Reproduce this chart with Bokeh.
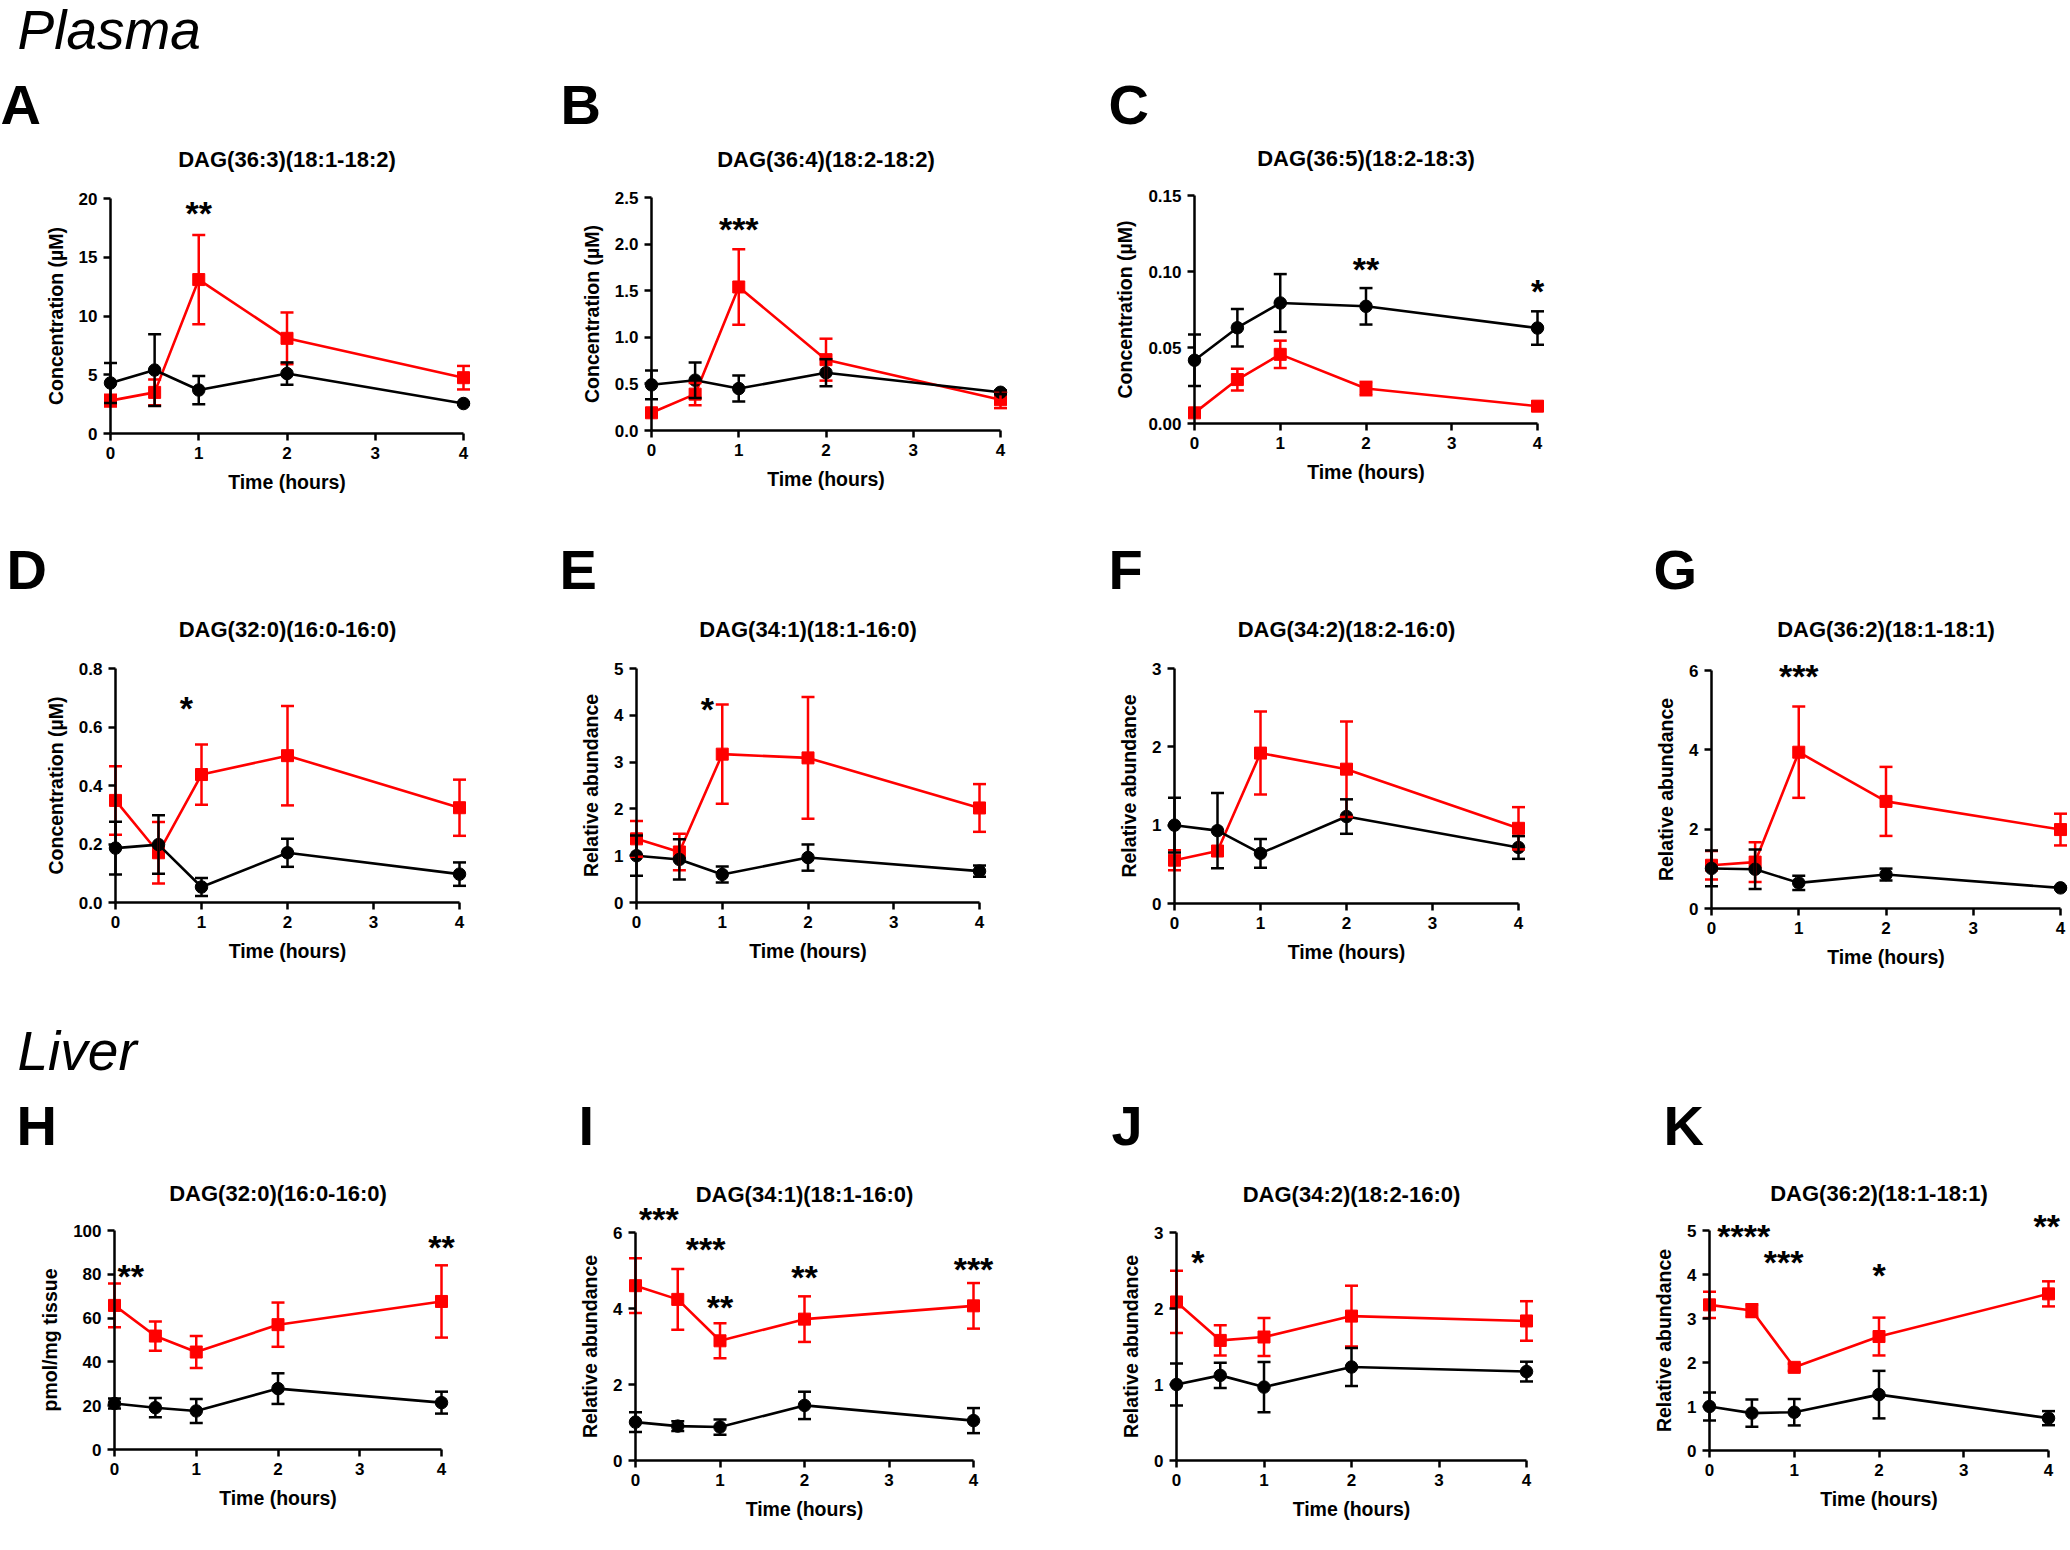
from bokeh.plotting import figure
from bokeh.models import (ColumnDataSource, Whisker, TeeHead, Label, FixedTicker,
                          PrintfTickFormatter, Range1d)
from bokeh.layouts import row, column
from bokeh.embed import file_html
from bokeh.resources import INLINE

FONT = "Liberation Sans"
RED = "#ff0000"
BLACK = "#000000"

# ---------------- data ----------------
time_h = [0, 0.5, 1, 2, 4]
x_ticks = [0, 1, 2, 3, 4]
x_label = "Time (hours)"

# Plasma
A_title = "DAG(36:3)(18:1-18:2)"
A_ylabel = "Concentration (µM)"
A_yticks = [0, 5, 10, 15, 20]
A_ctrl = [4.3, 5.4, 3.7, 5.1, 2.55]
A_ctrl_err = [1.7, 3.05, 1.2, 0.95, 0.1]
A_trt = [2.8, 3.5, 13.1, 8.1, 4.75]
A_trt_err = [0.5, 1.1, 3.8, 2.2, 1.0]
A_stars = ["**"]
A_star_x = [1.0]
A_star_y = [18.95]

B_title = "DAG(36:4)(18:2-18:2)"
B_ylabel = "Concentration (µM)"
B_yticks = [0.0, 0.5, 1.0, 1.5, 2.0, 2.5]
B_ctrl = [0.49, 0.54, 0.45, 0.62, 0.41]
B_ctrl_err = [0.155, 0.19, 0.14, 0.145, 0.02]
B_trt = [0.19, 0.39, 1.54, 0.76, 0.33]
B_trt_err = [0.02, 0.12, 0.405, 0.225, 0.09]
B_stars = ["***"]
B_star_x = [1.0]
B_star_y = [2.18]

C_title = "DAG(36:5)(18:2-18:3)"
C_ylabel = "Concentration (µM)"
C_yticks = [0.00, 0.05, 0.10, 0.15]
C_ctrl = [0.0416, 0.063, 0.0793, 0.0771, 0.0628]
C_ctrl_err = [0.017, 0.0124, 0.019, 0.012, 0.011]
C_trt = [0.007, 0.0289, 0.0455, 0.023, 0.0114]
C_trt_err = [0.001, 0.0072, 0.009, 0.0044, 0.0028]
C_stars = ["**", "*"]
C_star_x = [2.0, 4.0]
C_star_y = [0.1029, 0.0887]

D_title = "DAG(32:0)(16:0-16:0)"
D_ylabel = "Concentration (µM)"
D_yticks = [0.0, 0.2, 0.4, 0.6, 0.8]
D_ctrl = [0.186, 0.198, 0.053, 0.17, 0.097]
D_ctrl_err = [0.09, 0.1, 0.031, 0.048, 0.04]
D_trt = [0.349, 0.17, 0.4375, 0.502, 0.324]
D_trt_err = [0.117, 0.105, 0.103, 0.17, 0.096]
D_stars = ["*"]
D_star_x = [0.825]
D_star_y = [0.673]

E_title = "DAG(34:1)(18:1-16:0)"
E_ylabel = "Relative abundance"
E_yticks = [0, 1, 2, 3, 4, 5]
E_ctrl = [1.0, 0.92, 0.60, 0.96, 0.67]
E_ctrl_err = [0.43, 0.43, 0.17, 0.28, 0.12]
E_trt = [1.36, 1.08, 3.17, 3.09, 2.02]
E_trt_err = [0.38, 0.39, 1.06, 1.3, 0.51]
E_stars = ["*"]
E_star_x = [0.825]
E_star_y = [4.17]

F_title = "DAG(34:2)(18:2-16:0)"
F_ylabel = "Relative abundance"
F_yticks = [0, 1, 2, 3]
F_ctrl = [1.0, 0.93, 0.64, 1.11, 0.715]
F_ctrl_err = [0.35, 0.48, 0.185, 0.22, 0.145]
F_trt = [0.553, 0.67, 1.92, 1.715, 0.96]
F_trt_err = [0.128, 0.03, 0.53, 0.61, 0.27]
F_stars = []
F_star_x = []
F_star_y = []

G_title = "DAG(36:2)(18:1-18:1)"
G_ylabel = "Relative abundance"
G_yticks = [0, 2, 4, 6]
G_ctrl = [1.01, 0.99, 0.646, 0.856, 0.52]
G_ctrl_err = [0.45, 0.5, 0.18, 0.15, 0.03]
G_trt = [1.09, 1.17, 3.94, 2.70, 1.99]
G_trt_err = [0.36, 0.5, 1.15, 0.87, 0.4]
G_stars = ["***"]
G_star_x = [1.0]
G_star_y = [5.92]

# Liver
H_title = "DAG(32:0)(16:0-16:0)"
H_ylabel = "pmol/mg tissue"
H_yticks = [0, 20, 40, 60, 80, 100]
H_ctrl = [21.0, 19.1, 17.6, 27.8, 21.4]
H_ctrl_err = [2.3, 4.4, 5.5, 7.0, 5.0]
H_trt = [65.8, 51.8, 44.5, 57.0, 67.6]
H_trt_err = [10.0, 6.7, 7.3, 10.1, 16.5]
H_stars = ["**", "**"]
H_star_x = [0.2, 4.0]
H_star_y = [80.2, 93.2]

I_title = "DAG(34:1)(18:1-16:0)"
I_ylabel = "Relative abundance"
I_yticks = [0, 2, 4, 6]
I_ctrl = [1.01, 0.905, 0.88, 1.45, 1.05]
I_ctrl_err = [0.26, 0.13, 0.2, 0.36, 0.33]
I_trt = [4.6, 4.24, 3.15, 3.72, 4.07]
I_trt_err = [0.72, 0.8, 0.46, 0.6, 0.6]
I_stars = ["***", "***", "**", "**", "***"]
I_star_x = [0.277, 0.83, 1.0, 2.0, 4.0]
I_star_y = [6.41, 5.62, 4.09, 4.88, 5.10]

J_title = "DAG(34:2)(18:2-16:0)"
J_ylabel = "Relative abundance"
J_yticks = [0, 1, 2, 3]
J_ctrl = [1.0, 1.12, 0.966, 1.23, 1.17]
J_ctrl_err = [0.275, 0.165, 0.33, 0.25, 0.13]
J_trt = [2.086, 1.58, 1.625, 1.90, 1.836]
J_trt_err = [0.41, 0.2, 0.25, 0.4, 0.26]
J_stars = ["*"]
J_star_x = [0.243]
J_star_y = [2.64]

K_title = "DAG(36:2)(18:1-18:1)"
K_ylabel = "Relative abundance"
K_yticks = [0, 1, 2, 3, 4, 5]
K_ctrl = [1.0, 0.85, 0.87, 1.27, 0.735]
K_ctrl_err = [0.32, 0.31, 0.3, 0.54, 0.16]
K_trt = [3.31, 3.18, 1.89, 2.59, 3.56]
K_trt_err = [0.3, 0.145, 0.08, 0.43, 0.285]
K_stars = ["****", "***", "*", "**"]
K_star_x = [0.404, 0.875, 2.0, 3.98]
K_star_y = [4.92, 4.33, 4.02, 5.14]

# ---------------- layout geometry (page pixels) ----------------
ROWS = [(0, 518), (518, 485), (1003, 547)]  # (top, height)

TITLE_FS = 22
LETTER_FS = 56
HEAD_FS = 55
STAR_FS = 34
BASE_SHIFT = 0.4   # em: renderer places the anchor this far above the baseline


def make_panel(letter, title, ylabel, yticks, dec, ctrl, ctrl_err, trt, trt_err,
               stars, star_x, star_y, g, row_top, row_h, heading=None):
    x0, x4, yt, y0 = g["x0"], g["x4"], g["yt"], g["y0"]
    ymax = yticks[-1]
    sx = (x4 - x0) / 4.0
    sy = (y0 - yt) / ymax
    fig_l, fig_w = g["left"], g["width"]

    def X(px):
        return (px - x0) / sx

    def Y(py):
        return (y0 - py) / sy

    p = figure(width=fig_w, height=row_h, title=None,
               x_range=Range1d(X(fig_l), X(fig_l + fig_w)),
               y_range=Range1d(Y(row_top + row_h), Y(row_top)),
               min_border=0, min_border_left=0, min_border_right=0,
               min_border_top=0, min_border_bottom=0,
               output_backend="svg", toolbar_location=None, tools="")
    p.outline_line_color = None
    p.grid.visible = False
    p.background_fill_color = "white"
    p.border_fill_color = "white"

    for ax in (p.xaxis[0], p.yaxis[0]):
        ax.fixed_location = 0
        ax.axis_line_width = 2.5
        ax.axis_line_color = BLACK
        ax.major_tick_line_width = 2.5
        ax.major_tick_line_color = BLACK
        ax.major_tick_out = 7
        ax.major_tick_in = 0
        ax.minor_tick_out = 0
        ax.minor_tick_in = 0
        ax.major_label_text_font = FONT
        ax.major_label_text_font_size = "17px"
        ax.major_label_text_font_style = "bold"
        ax.major_label_text_color = BLACK
        ax.major_label_standoff = 6
        ax.axis_label_text_font = FONT
        ax.axis_label_text_font_size = "19.5px"
        ax.axis_label_text_font_style = "bold"
        ax.axis_label_text_color = BLACK
        ax.axis_label_standoff = 9
    p.xaxis.bounds = (0, 4)
    p.yaxis.bounds = (0, ymax)
    p.xaxis.ticker = FixedTicker(ticks=x_ticks)
    p.yaxis.ticker = FixedTicker(ticks=yticks)
    p.yaxis.formatter = PrintfTickFormatter(format="%." + str(dec) + "f")
    p.xaxis.axis_label = x_label
    p.yaxis.axis_label = ylabel

    for mean, err, color, marker, msize in ((trt, trt_err, RED, "square", 12),
                                            (ctrl, ctrl_err, BLACK, "circle", 12.5)):
        src = ColumnDataSource(dict(x=time_h, y=mean,
                                    upper=[m + e for m, e in zip(mean, err)],
                                    lower=[m - e for m, e in zip(mean, err)]))
        w = Whisker(source=src, base="x", upper="upper", lower="lower",
                    dimension="height", line_color=color, line_width=2.5,
                    upper_head=TeeHead(size=13, line_color=color, line_width=2.5),
                    lower_head=TeeHead(size=13, line_color=color, line_width=2.5))
        w.level = "glyph"
        p.add_layout(w)
        p.line("x", "y", source=src, line_color=color, line_width=2.6)
        p.scatter("x", "y", source=src, marker=marker, size=msize,
                  fill_color=color, line_color=color)

    for s, sxv, syv in zip(stars, star_x, star_y):
        p.add_layout(Label(x=sxv, y=syv - 0.055 * STAR_FS / sy, text=s,
                           text_font=FONT, text_font_size=f"{STAR_FS}px",
                           text_font_style="bold", text_align="center",
                           text_baseline="alphabetic", text_color=BLACK))

    p.add_layout(Label(x=2.0, y=Y(g["tb"] - BASE_SHIFT * TITLE_FS), text=title,
                       text_font=FONT, text_font_size=f"{TITLE_FS}px",
                       text_font_style="bold", text_align="center",
                       text_baseline="alphabetic", text_color=BLACK))
    p.add_layout(Label(x=X(g["lx"]), y=Y(g["ly"] - BASE_SHIFT * LETTER_FS), text=letter,
                       text_font=FONT, text_font_size=f"{LETTER_FS}px",
                       text_font_style="bold", text_align="left",
                       text_baseline="alphabetic", text_color=BLACK))
    if heading is not None:
        htext, hx, hy = heading
        p.add_layout(Label(x=X(hx), y=Y(hy - BASE_SHIFT * HEAD_FS), text=htext,
                           text_font=FONT, text_font_size=f"{HEAD_FS}px",
                           text_font_style="italic", text_align="left",
                           text_baseline="alphabetic", text_color=BLACK))
    return p


geo = {
    "A": dict(x0=110, x4=463, yt=198, y0=433, left=0, width=540, lx=0, ly=126, tb=168),
    "B": dict(x0=651, x4=1000, yt=197, y0=430, left=540, width=540, lx=560, ly=126, tb=168),
    "C": dict(x0=1194, x4=1537, yt=195, y0=423, left=1080, width=540, lx=1108, ly=126, tb=167),
    "D": dict(x0=115, x4=459, yt=668, y0=902, left=0, width=525, lx=6, ly=591, tb=638),
    "E": dict(x0=636, x4=979, yt=668, y0=902, left=525, width=537, lx=559, ly=591, tb=638),
    "F": dict(x0=1174, x4=1518, yt=668, y0=903, left=1062, width=538, lx=1108, ly=591, tb=638),
    "G": dict(x0=1711, x4=2060, yt=670, y0=908, left=1600, width=470, lx=1653, ly=591, tb=638),
    "H": dict(x0=114, x4=441, yt=1230, y0=1449, left=0, width=525, lx=16, ly=1147, tb=1202),
    "I": dict(x0=635, x4=973, yt=1232, y0=1460, left=525, width=539, lx=578, ly=1147, tb=1203),
    "J": dict(x0=1176, x4=1526, yt=1232, y0=1460, left=1064, width=536, lx=1111, ly=1147, tb=1203),
    "K": dict(x0=1709, x4=2048, yt=1230, y0=1450, left=1600, width=470, lx=1663, ly=1147, tb=1202),
}

r1t, r1h = ROWS[0]
r2t, r2h = ROWS[1]
r3t, r3h = ROWS[2]

pA = make_panel("A", A_title, A_ylabel, A_yticks, 0, A_ctrl, A_ctrl_err, A_trt, A_trt_err,
                A_stars, A_star_x, A_star_y, geo["A"], r1t, r1h, heading=("Plasma", 17, 51))
pB = make_panel("B", B_title, B_ylabel, B_yticks, 1, B_ctrl, B_ctrl_err, B_trt, B_trt_err,
                B_stars, B_star_x, B_star_y, geo["B"], r1t, r1h)
pC = make_panel("C", C_title, C_ylabel, C_yticks, 2, C_ctrl, C_ctrl_err, C_trt, C_trt_err,
                C_stars, C_star_x, C_star_y, geo["C"], r1t, r1h)
pD = make_panel("D", D_title, D_ylabel, D_yticks, 1, D_ctrl, D_ctrl_err, D_trt, D_trt_err,
                D_stars, D_star_x, D_star_y, geo["D"], r2t, r2h)
pE = make_panel("E", E_title, E_ylabel, E_yticks, 0, E_ctrl, E_ctrl_err, E_trt, E_trt_err,
                E_stars, E_star_x, E_star_y, geo["E"], r2t, r2h)
pF = make_panel("F", F_title, F_ylabel, F_yticks, 0, F_ctrl, F_ctrl_err, F_trt, F_trt_err,
                F_stars, F_star_x, F_star_y, geo["F"], r2t, r2h)
pG = make_panel("G", G_title, G_ylabel, G_yticks, 0, G_ctrl, G_ctrl_err, G_trt, G_trt_err,
                G_stars, G_star_x, G_star_y, geo["G"], r2t, r2h)
pH = make_panel("H", H_title, H_ylabel, H_yticks, 0, H_ctrl, H_ctrl_err, H_trt, H_trt_err,
                H_stars, H_star_x, H_star_y, geo["H"], r3t, r3h, heading=("Liver", 17, 1072))
pI = make_panel("I", I_title, I_ylabel, I_yticks, 0, I_ctrl, I_ctrl_err, I_trt, I_trt_err,
                I_stars, I_star_x, I_star_y, geo["I"], r3t, r3h)
pJ = make_panel("J", J_title, J_ylabel, J_yticks, 0, J_ctrl, J_ctrl_err, J_trt, J_trt_err,
                J_stars, J_star_x, J_star_y, geo["J"], r3t, r3h)
pK = make_panel("K", K_title, K_ylabel, K_yticks, 0, K_ctrl, K_ctrl_err, K_trt, K_trt_err,
                K_stars, K_star_x, K_star_y, geo["K"], r3t, r3h)

layout = column(row(pA, pB, pC), row(pD, pE, pF, pG), row(pH, pI, pJ, pK))

open("out.html", "w").write(file_html(layout, INLINE))
